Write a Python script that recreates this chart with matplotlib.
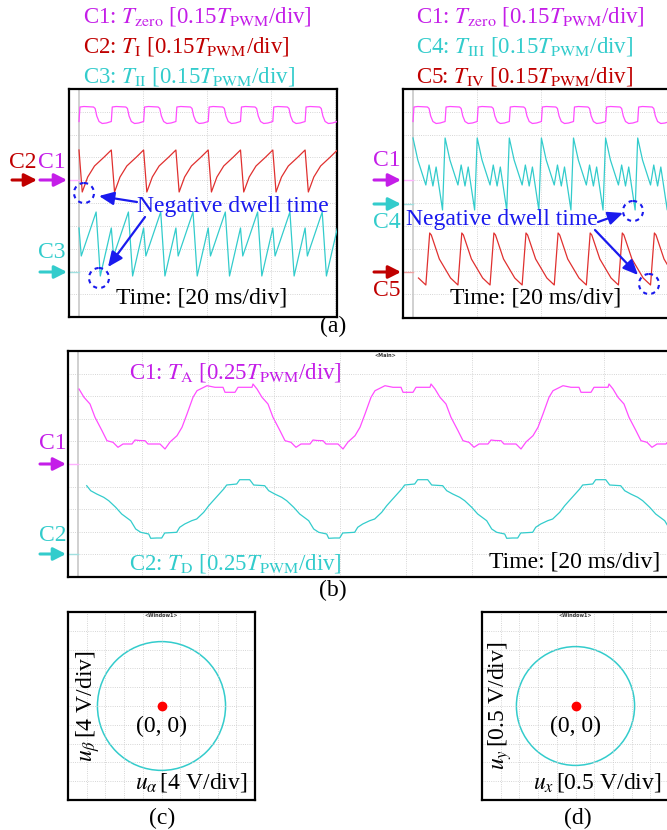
import numpy as np
import matplotlib.pyplot as plt
from matplotlib.patches import Circle

plt.rcParams['font.family'] = ['Liberation Serif', 'DejaVu Serif']
plt.rcParams['mathtext.fontset'] = 'stix'

# ---------------------------------------------------------------------------
# values read off the scope screens (screen px, level measured from the top)
# ---------------------------------------------------------------------------
# (a) one PWM cycle of every trace, phase in cycles
tzero_phase = [0.00, 0.03, 0.15, 0.45, 0.50, 0.55, 0.62, 0.72, 0.85]
tzero_level = [32.5, 18.0, 17.5, 18.0, 19.5, 27.0, 32.5, 34.5, 34.0]

t1_phase = [0.00, 0.10, 0.27, 0.48, 0.78]
t1_level = [61, 103, 88, 77, 68]

t2_phase = [0.00, 0.07, 0.53, 0.66]
t2_level = [139, 167, 123, 187]

t3_phase = [0.00, 0.15, 0.40, 0.50, 0.62, 0.72, 0.92]
t3_level = [49, 71, 96, 76, 97, 78, 121]

t4_phase = [0.00, 0.05, 0.30, 0.65, 0.88]
t4_level = [144, 146, 170, 189, 196]
t4_start = 0.48          # phase of T_IV at the trigger

cycle_left = 32.3        # px per cycle, left screen
cycle_right = 32.1       # px per cycle, right screen

# (b) one fundamental period, time in px from the T_A trough centre
ta_time = [0, 6, 9, 21, 26, 31, 38, 43, 48, 54, 58, 68, 76, 84, 86,
           96, 99, 113, 114, 118, 123, 129, 134, 141, 146, 152, 157, 162, 171, 174]
ta_level = [89.5, 89.7, 93, 93, 98, 91, 84.7, 76.3, 63, 46.3, 39.7, 34.7, 36.3, 36.3, 41.3,
            41.3, 36.3, 36.3, 33, 38, 46.3, 53, 66.3, 79.7, 89.7, 91.3, 96.3, 93, 93, 89]
td_time = [0, 5, 8, 20, 23, 28, 35, 40, 47, 52, 58, 67, 70, 80, 83,
           93, 97, 108, 112, 118, 125, 130, 137, 143, 152, 157, 162, 170, 172]
td_level = [187, 187, 182, 181.3, 176.3, 173, 169.7, 168, 161.3, 154.7, 148, 138, 134, 133, 128.7,
            128.7, 134, 134.7, 139.7, 143, 146.3, 149.7, 156.3, 163, 169.7, 178, 181.3, 183, 187.3]
period_b = 178
ta_start = 117
td_start = 99.3

# (c), (d) voltage loci
ab_radius = 13.7         # V
ab_div = 4               # V/div
xy_radius = 1.58         # V
xy_div = 0.5             # V/div

MAG_T, MAG = '#c41ee8', '#ff4dff'
RED_T, RED = '#c00000', '#e0302f'
CYAN = '#33cccc'
BLUE = '#1a1aee'
FS = 17
FS_HEAD = 16.5

W, H = 667, 830
fig = plt.figure(figsize=(W / 100, H / 100), dpi=100)


def screen(left, top, width, height, xgrid, ygrid):
    ax = fig.add_axes([left / W, 1 - (top + height) / H, width / W, height / H])
    ax.set_xlim(0, width)
    ax.set_ylim(height, 0)
    ax.set_xticks(xgrid)
    ax.set_yticks(ygrid)
    ax.grid(True, ls=':', lw=0.6, color='#c8c8c8')
    ax.tick_params(length=0, labelbottom=False, labelleft=False)
    for s in ax.spines.values():
        s.set_linewidth(1.6)
    ax.axvline(10, color='#d0d0d0', lw=1.4, zorder=1)
    return ax


def tile(times, levels, period, shift, start, end):
    t = np.asarray(times, float)
    v = np.asarray(levels, float)
    n = int((end - start) / period) + 2
    x = np.concatenate([start + t - shift + k * period for k in range(n + 1)])
    y = np.tile(v, n + 1)
    keep = (x >= start) & (x <= end + period)
    return x[keep], y[keep]


def trace(ax, times, levels, period, shift, color):
    x, y = tile(times, levels, period, shift, 10, ax.get_xlim()[1])
    ax.plot(x, y, color=color, lw=0.9, zorder=3)


# --- (a) left screen --------------------------------------------------------
ya = np.arange(22.8, 228, 22.8)
a1 = screen(69, 89, 268, 228, np.arange(74, 268, 64), ya)
trace(a1, np.array(tzero_phase) * cycle_left, tzero_level, cycle_left, 0, MAG)
trace(a1, np.array(t1_phase) * cycle_left, t1_level, cycle_left, 0, RED)
trace(a1, np.array(t2_phase) * cycle_left, t2_level, cycle_left, 0, CYAN)
a1.plot([0, 10], [91, 91], color='#ffb0ff', lw=1)
a1.plot([0, 10], [183, 183], color='#a0e0e0', lw=1)

# --- (a) right screen -------------------------------------------------------
a2 = screen(403, 89, 268, 229, np.arange(74, 268, 64), ya)
trace(a2, np.array(tzero_phase) * cycle_right, tzero_level, cycle_right, 0, MAG)
trace(a2, np.array(t3_phase) * cycle_right, t3_level, cycle_right, 0, CYAN)
trace(a2, np.array(t4_phase) * cycle_right, t4_level, cycle_right,
      t4_start * cycle_right, RED)
a2.plot([0, 10], [91, 91], color='#ffb0ff', lw=1)
a2.plot([0, 10], [115, 115], color='#a0e0e0', lw=1)
a2.plot([0, 10], [183, 183], color='#f0a0a0', lw=1)

# --- (b) -------------------------------------------------------------------
b = screen(68, 351, 604, 226, np.arange(74, 604, 66), np.arange(22.6, 226, 22.6))
trace(b, ta_time, ta_level, period_b, ta_start, MAG)
trace(b, td_time, td_level, period_b, td_start, CYAN)
b.plot([0, 10], [113, 113], color='#ffb0ff', lw=1)
b.plot([0, 10], [203, 203], color='#a0e0e0', lw=1)
b.text(0.525, 0.992, '<Main>', transform=b.transAxes, ha='center', va='top',
       fontsize=3.5, family='DejaVu Sans', weight='bold', color='#333333')


# --- (c), (d) ---------------------------------------------------------------
def locus(left, radius, vdiv, xlab, ylab, ylab_x):
    ax = fig.add_axes([left / W, 1 - 800 / H, 187 / W, 188 / H])
    g = np.arange(-5, 6) * vdiv
    ax.set_xlim(-5 * vdiv, 5 * vdiv)
    ax.set_ylim(-5 * vdiv, 5 * vdiv)
    ax.set_xticks(g)
    ax.set_yticks(g)
    ax.grid(True, ls=':', lw=0.6, color='#c8c8c8')
    ax.tick_params(length=0, labelbottom=False, labelleft=False)
    for s in ax.spines.values():
        s.set_linewidth(1.6)
    ax.add_patch(Circle((0, 0), radius, fill=False, ec=CYAN, lw=1.1))
    ax.plot([0], [0], 'o', color='#ff0000', ms=6)
    ax.text(0, -0.55 * vdiv, '(0, 0)', ha='center', va='top', fontsize=FS)
    ax.text(0.96, 0.03, xlab, transform=ax.transAxes, ha='right', va='bottom',
            fontsize=FS)
    ax.text(ylab_x, 0.5, ylab, transform=ax.transAxes, rotation=90,
            ha='center', va='center', fontsize=FS)
    ax.text(0.5, 0.993, '<Window1>', transform=ax.transAxes, ha='center',
            va='top', fontsize=3.5, family='DejaVu Sans', weight='bold',
            color='#333333')
    return ax


locus(68, ab_radius, ab_div, r'$u_{\alpha}\,$[4 V/div]', r'$u_{\beta}\,$[4 V/div]', 0.11)
locus(482, xy_radius, xy_div, r'$u_{x}\,$[0.5 V/div]', r'$u_{y}\,$[0.5 V/div]', 0.095)

# --- overlay: labels, arrows, call-outs ----------------------------------
ov = fig.add_axes([0, 0, 1, 1], zorder=10)
ov.set_xlim(0, W)
ov.set_ylim(H, 0)
ov.axis('off')
ov.patch.set_alpha(0)

head = '-|>,head_length=0.75,head_width=0.38'


def marker(x0, x1, y, color):
    ov.annotate('', xy=(x1, y), xytext=(x0, y),
                arrowprops=dict(arrowstyle=head, color=color, lw=2.2,
                                shrinkA=0, shrinkB=0))


def callout(x0, y0, x1, y1):
    ov.annotate('', xy=(x1, y1), xytext=(x0, y0),
                arrowprops=dict(arrowstyle='-|>,head_length=0.9,head_width=0.4',
                                color=BLUE, lw=1.6, shrinkA=0, shrinkB=0))


def ring(x, y):
    ov.add_patch(Circle((x, y), 10, fill=False, ec=BLUE, lw=1.5, ls=(0, (2, 2))))


# headers
for x0, rows in [(83, [('C1: $T_{\\mathrm{zero}}$ [0.15$T_{\\mathrm{PWM}}$/div]', MAG_T),
                       ('C2: $T_{\\mathrm{I}}$ [0.15$T_{\\mathrm{PWM}}$/div]', RED_T),
                       ('C3: $T_{\\mathrm{II}}$ [0.15$T_{\\mathrm{PWM}}$/div]', CYAN)]),
                 (416, [('C1: $T_{\\mathrm{zero}}$ [0.15$T_{\\mathrm{PWM}}$/div]', MAG_T),
                        ('C4: $T_{\\mathrm{III}}$ [0.15$T_{\\mathrm{PWM}}$/div]', CYAN),
                        ('C5: $T_{\\mathrm{IV}}$ [0.15$T_{\\mathrm{PWM}}$/div]', RED_T)])]:
    for i, (s, c) in enumerate(rows):
        ov.text(x0, 17 + 30 * i, s, color=c, fontsize=FS_HEAD, ha='left', va='center')

# left screen channel markers
ov.text(23, 162, 'C2', color=RED_T, fontsize=FS, ha='center', va='center')
ov.text(52, 162, 'C1', color=MAG_T, fontsize=FS, ha='center', va='center')
marker(12, 37, 180, RED_T)
marker(40, 67, 180, MAG_T)
ov.text(52, 252, 'C3', color=CYAN, fontsize=FS, ha='center', va='center')
marker(40, 67, 272, CYAN)

# right screen channel markers
ov.text(387, 161, 'C1', color=MAG_T, fontsize=FS, ha='center', va='center')
marker(374, 401, 180, MAG_T)
marker(374, 401, 204, CYAN)
ov.text(387, 222, 'C4', color=CYAN, fontsize=FS, ha='center', va='center')
marker(374, 401, 272, RED_T)
ov.text(387, 290, 'C5', color=RED_T, fontsize=FS, ha='center', va='center')

# negative dwell time call-outs
ov.text(233, 206, 'Negative dwell time', color=BLUE, fontsize=FS, ha='center', va='center')
ring(84, 193)
ring(99, 278)
callout(137, 202, 99, 196)
callout(145, 217, 108, 267)

ov.text(502, 219, 'Negative dwell time', color=BLUE, fontsize=FS, ha='center', va='center')
ring(633, 211)
ring(649, 284)
callout(598, 222, 623, 213)
callout(595, 230, 638, 275)

ov.text(202, 298, 'Time: [20 ms/div]', fontsize=FS, ha='center', va='center')
ov.text(536, 298, 'Time: [20 ms/div]', fontsize=FS, ha='center', va='center')
ov.text(333, 326, '(a)', fontsize=FS, ha='center', va='center')

# (b) labels
ov.text(129, 372, 'C1: $T_{\\mathrm{A}}$ [0.25$T_{\\mathrm{PWM}}$/div]', color=MAG_T,
        fontsize=FS_HEAD, ha='left', va='center')
ov.text(129, 563, 'C2: $T_{\\mathrm{D}}$ [0.25$T_{\\mathrm{PWM}}$/div]', color=CYAN,
        fontsize=FS_HEAD, ha='left', va='center')
ov.text(660, 562, 'Time: [20 ms/div]', fontsize=FS, ha='right', va='center')
ov.text(53, 443, 'C1', color=MAG_T, fontsize=FS, ha='center', va='center')
marker(40, 66, 464, MAG_T)
ov.text(53, 535, 'C2', color=CYAN, fontsize=FS, ha='center', va='center')
marker(40, 66, 554, CYAN)
ov.text(333, 590, '(b)', fontsize=FS, ha='center', va='center')

ov.text(162, 818, '(c)', fontsize=FS, ha='center', va='center')
ov.text(578, 818, '(d)', fontsize=FS, ha='center', va='center')

fig.savefig('out.png', dpi=100)
